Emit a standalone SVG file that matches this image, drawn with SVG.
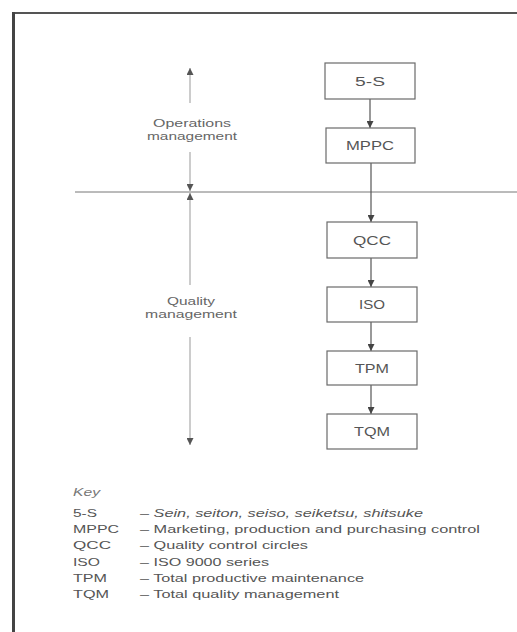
<svg xmlns="http://www.w3.org/2000/svg" width="517" height="632" viewBox="0 0 517 632">
<defs>
<marker id="ah" viewBox="0 0 10 10" refX="10" refY="5" markerWidth="7" markerHeight="7" markerUnits="userSpaceOnUse" orient="auto">
<path d="M0,0 L10,5 L0,10 z" fill="#444"/>
</marker>
<marker id="ahl" viewBox="0 0 10 10" refX="10" refY="5" markerWidth="7" markerHeight="7" markerUnits="userSpaceOnUse" orient="auto">
<path d="M0,0 L10,5 L0,10 z" fill="#555"/>
</marker>
</defs>
<style>
.box rect{fill:#fff;stroke:#6a6a6a;stroke-width:1.2}
.box text{font-family:"Liberation Sans",Arial,sans-serif;font-size:12.5px;fill:#555;text-anchor:middle}
.con line{stroke:#555;stroke-width:1.2}
.axis line{stroke:#999;stroke-width:1}
.side{font-family:"Liberation Sans",Arial,sans-serif;font-size:10.5px;fill:#666;text-anchor:middle}
.key{font-family:"Liberation Sans",Arial,sans-serif;font-size:11px;fill:#555}
</style>
<rect width="517" height="632" fill="#fff"/>
<g id="frame">
<line x1="12" y1="13" x2="517" y2="13" stroke="#555" stroke-width="2"/>
<line x1="13.5" y1="12" x2="13.5" y2="632" stroke="#444" stroke-width="3"/>
</g>
<g id="divider">
<line x1="75" y1="192" x2="517" y2="192" stroke="#777" stroke-width="1"/>
</g>
<g id="axis" class="axis">
<line x1="190" y1="103" x2="190" y2="68" marker-end="url(#ahl)"/>
<line x1="190" y1="152" x2="190" y2="191" marker-end="url(#ahl)"/>
<line x1="190" y1="285" x2="190" y2="193" marker-end="url(#ahl)"/>
<line x1="190" y1="337" x2="190" y2="445" marker-end="url(#ahl)"/>
</g>
<g id="labels">
<text class="side" x="192" y="127" textLength="78" lengthAdjust="spacingAndGlyphs">Operations</text>
<text class="side" x="192" y="140" textLength="90" lengthAdjust="spacingAndGlyphs">management</text>
<text class="side" x="191" y="305" textLength="48" lengthAdjust="spacingAndGlyphs">Quality</text>
<text class="side" x="191" y="318" textLength="92" lengthAdjust="spacingAndGlyphs">management</text>
</g>
<g id="connectors" class="con">
<line x1="370" y1="99" x2="370" y2="128" marker-end="url(#ah)"/>
<line x1="371" y1="163" x2="371" y2="222" marker-end="url(#ah)"/>
<line x1="371" y1="258" x2="371" y2="287" marker-end="url(#ah)"/>
<line x1="371" y1="322" x2="371" y2="351" marker-end="url(#ah)"/>
<line x1="371" y1="385" x2="371" y2="414" marker-end="url(#ah)"/>
</g>
<g id="n5s" class="box"><rect x="325" y="63" width="90" height="36"/><text x="370" y="86" textLength="30" lengthAdjust="spacingAndGlyphs">5-S</text></g>
<g id="nmppc" class="box"><rect x="326" y="128" width="89" height="35"/><text x="370" y="150" textLength="48" lengthAdjust="spacingAndGlyphs">MPPC</text></g>
<g id="nqcc" class="box"><rect x="327" y="222" width="90" height="36"/><text x="372" y="245" textLength="38" lengthAdjust="spacingAndGlyphs">QCC</text></g>
<g id="niso" class="box"><rect x="327" y="287" width="90" height="35"/><text x="372" y="309" textLength="26" lengthAdjust="spacingAndGlyphs">ISO</text></g>
<g id="ntpm" class="box"><rect x="327" y="351" width="90" height="34"/><text x="372" y="373" textLength="34" lengthAdjust="spacingAndGlyphs">TPM</text></g>
<g id="ntqm" class="box"><rect x="327" y="414" width="90" height="35"/><text x="372" y="436" textLength="36" lengthAdjust="spacingAndGlyphs">TQM</text></g>
<g id="key" class="key">
<text x="73" y="496" font-style="italic" fill="#777" textLength="27" lengthAdjust="spacingAndGlyphs">Key</text>
<text x="73" y="517" textLength="24" lengthAdjust="spacingAndGlyphs">5-S</text>
<text x="140" y="517" textLength="283" lengthAdjust="spacingAndGlyphs">– <tspan font-style="italic">Sein, seiton, seiso, seiketsu, shitsuke</tspan></text>
<text x="73" y="533" textLength="46" lengthAdjust="spacingAndGlyphs">MPPC</text>
<text x="140" y="533" textLength="340" lengthAdjust="spacingAndGlyphs">– Marketing, production and purchasing control</text>
<text x="73" y="549" textLength="38" lengthAdjust="spacingAndGlyphs">QCC</text>
<text x="140" y="549" textLength="168" lengthAdjust="spacingAndGlyphs">– Quality control circles</text>
<text x="73" y="566" textLength="27" lengthAdjust="spacingAndGlyphs">ISO</text>
<text x="140" y="566" textLength="129" lengthAdjust="spacingAndGlyphs">– ISO 9000 series</text>
<text x="73" y="582" textLength="34" lengthAdjust="spacingAndGlyphs">TPM</text>
<text x="140" y="582" textLength="224" lengthAdjust="spacingAndGlyphs">– Total productive maintenance</text>
<text x="73" y="598" textLength="36" lengthAdjust="spacingAndGlyphs">TQM</text>
<text x="140" y="598" textLength="199" lengthAdjust="spacingAndGlyphs">– Total quality management</text>
</g>
</svg>
